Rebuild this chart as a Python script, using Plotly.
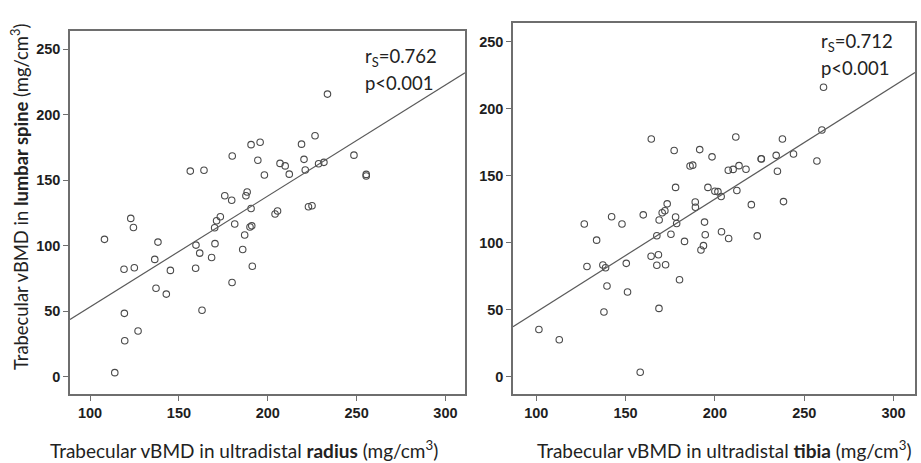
import plotly.graph_objects as go

# ---- data: left panel (radius vs lumbar spine) ----
radius_x = [233.6, 226.6, 219.0, 220.4, 221.1, 228.6, 231.6, 248.5, 255.4, 255.4,
            190.6, 195.7, 180.0, 194.4, 206.9, 209.8, 212.1, 198.1, 156.4, 164.1,
            175.8, 179.7, 187.7, 188.4, 190.6, 222.9, 224.9, 204.1, 205.5, 122.9,
            124.4, 173.3, 171.2, 170.1, 181.4, 190.0, 191.0, 108.1, 138.2, 136.4,
            119.1, 124.9, 145.2, 137.1, 142.9, 159.6, 161.7, 159.4, 168.4, 170.3,
            185.9, 187.0, 191.3, 179.9, 163.0, 119.3, 127.0, 119.5, 113.9]
spine_y_left = [215.8, 184.0, 177.6, 166.0, 157.8, 162.6, 163.7, 169.2, 154.5, 153.3,
                177.2, 179.0, 168.5, 165.3, 162.9, 161.0, 154.7, 154.0, 157.0, 157.7,
                138.2, 134.7, 138.2, 141.1, 128.5, 129.8, 130.6, 124.2, 126.5, 120.9,
                114.0, 122.1, 119.1, 113.7, 116.6, 114.3, 115.2, 104.9, 102.8, 89.6,
                82.1, 83.2, 81.2, 67.5, 63.1, 100.5, 94.4, 82.8, 91.0, 101.6,
                97.2, 108.2, 84.4, 72.0, 50.8, 48.4, 34.9, 27.5, 3.1]

# ---- data: right panel (tibia vs lumbar spine) ----
tibia_x = [260.8, 259.9, 237.8, 244.0, 234.3, 235.0, 257.1, 238.4, 225.9, 226.0,
           211.7, 164.4, 177.2, 191.5, 198.4, 186.1, 187.6, 207.5, 210.2, 213.5,
           217.4, 178.0, 196.1, 200.0, 201.7, 203.5, 212.3, 220.4, 189.0, 189.1,
           173.3, 172.0, 170.5, 159.9, 142.2, 148.0, 126.9, 168.8, 178.0, 178.6,
           194.2, 133.8, 128.4, 137.3, 138.8, 150.4, 139.6, 151.1, 137.9, 101.5,
           112.9, 158.2, 167.5, 168.4, 164.3, 167.5, 172.4, 168.7, 175.4, 183.0,
           180.2, 194.6, 193.6, 192.2, 203.7, 207.7, 223.7]
spine_y_right = [216.0, 184.1, 177.4, 166.2, 165.2, 153.3, 161.0, 130.7, 162.7, 162.5,
                 178.9, 177.4, 168.8, 169.5, 164.1, 157.2, 157.9, 154.1, 154.7, 157.5,
                 154.8, 141.3, 141.3, 138.4, 138.1, 134.5, 139.0, 128.4, 130.4, 126.5,
                 129.0, 123.9, 122.4, 120.8, 119.4, 114.0, 114.0, 117.0, 119.2, 114.3,
                 115.4, 101.9, 82.3, 83.4, 81.3, 84.6, 67.7, 63.2, 48.3, 35.2,
                 27.6, 3.3, 105.2, 91.0, 89.9, 83.2, 83.6, 51.0, 106.3, 101.0,
                 72.4, 106.0, 97.8, 94.6, 108.2, 103.2, 105.1]

# regression lines (intercept, slope)
fit_intercept = [-31.4, -36.0]
fit_slope = [0.847, 0.843]
r_text = ["r<sub>S</sub>=0.762", "r<sub>S</sub>=0.712"]
p_text = ["p<0.001", "p<0.001"]
x_ticks = [100, 150, 200, 250, 300]
y_ticks = [0, 50, 100, 150, 200, 250]

x_ranges = [[88.7, 311.0], [87.0, 312.0]]
y_ranges = [[-13.2, 264.0], [-12.9, 264.2]]

marker_col = "#4a4a4a"
line_col = "#5a5a5a"
frame_col = "#6e6e6e"

fig = go.Figure()
panels = [(radius_x, spine_y_left), (tibia_x, spine_y_right)]
for i, (xs, ys) in enumerate(panels):
    xa = "x" if i == 0 else "x2"
    ya = "y" if i == 0 else "y2"
    fig.add_trace(go.Scatter(
        x=xs, y=ys, mode="markers", xaxis=xa, yaxis=ya,
        marker=dict(symbol="circle-open", size=6.5, color=marker_col,
                    line=dict(width=1.1, color=marker_col)),
        showlegend=False, hoverinfo="skip"))
    lx = x_ranges[i]
    fig.add_trace(go.Scatter(
        x=lx, y=[fit_intercept[i] + fit_slope[i] * v for v in lx],
        mode="lines", xaxis=xa, yaxis=ya,
        line=dict(color=line_col, width=1.2),
        showlegend=False, hoverinfo="skip"))

axis_common = dict(showgrid=False, zeroline=False, showline=True, mirror=True,
                   linecolor=frame_col, linewidth=1.5, ticks="outside",
                   ticklen=5, tickwidth=1.2, tickcolor=frame_col,
                   tickfont=dict(family="Liberation Sans", size=14.5, color="#1e1e1e",
                                 weight="bold"))

W, H = 921, 463
fig.update_layout(
    width=W, height=H,
    margin=dict(l=0, r=0, t=0, b=0),
    paper_bgcolor="white", plot_bgcolor="white",
    xaxis=dict(domain=[70 / W, 465 / W], range=x_ranges[0], tickvals=x_ticks,
               anchor="y", **axis_common),
    yaxis=dict(domain=[1 - 394 / H, 1 - 31 / H], range=y_ranges[0], tickvals=y_ticks,
               anchor="x", **axis_common),
    xaxis2=dict(domain=[513 / W, 915 / W], range=x_ranges[1], tickvals=x_ticks,
                anchor="y2", **axis_common),
    yaxis2=dict(domain=[1 - 394 / H, 1 - 22.7 / H], range=y_ranges[1], tickvals=y_ticks,
                anchor="x2", **axis_common),
)

xtitle_font = dict(family="Lato", size=19, color="#222222")
ytitle_font = dict(family="Lato", size=18.4, color="#222222")
ann_font = dict(family="Lato", size=18.5, color="#222222")

fig.add_annotation(xref="paper", yref="paper", x=244 / W, y=1 - 449 / H,
                   text="Trabecular vBMD in ultradistal <b>radius</b> (mg/cm<sup>3</sup>)",
                   showarrow=False, font=xtitle_font, xanchor="center", yanchor="middle")
fig.add_annotation(xref="paper", yref="paper", x=724 / W, y=1 - 449 / H,
                   text="Trabecular vBMD in ultradistal <b>tibia</b> (mg/cm<sup>3</sup>)",
                   showarrow=False, font=xtitle_font, xanchor="center", yanchor="middle")
fig.add_annotation(xref="paper", yref="paper", x=20 / W, y=1 - 197 / H,
                   text="Trabecular vBMD in <b>lumbar spine</b> (mg/cm<sup>3</sup>)",
                   showarrow=False, font=ytitle_font, textangle=-90,
                   xanchor="center", yanchor="middle")

r_pos = [(363, 58), (819, 43)]
for i, (px, py) in enumerate(r_pos):
    fig.add_annotation(xref="paper", yref="paper", x=px / W, y=1 - py / H,
                       text=r_text[i], showarrow=False, font=ann_font,
                       xanchor="left", yanchor="middle", align="left")
    fig.add_annotation(xref="paper", yref="paper", x=px / W, y=1 - (py + 25) / H,
                       text=p_text[i], showarrow=False, font=ann_font,
                       xanchor="left", yanchor="middle", align="left")

fig.write_html("out.html", config={"displayModeBar": False},
               post_script="document.body.style.margin='0';document.body.style.padding='0';")
